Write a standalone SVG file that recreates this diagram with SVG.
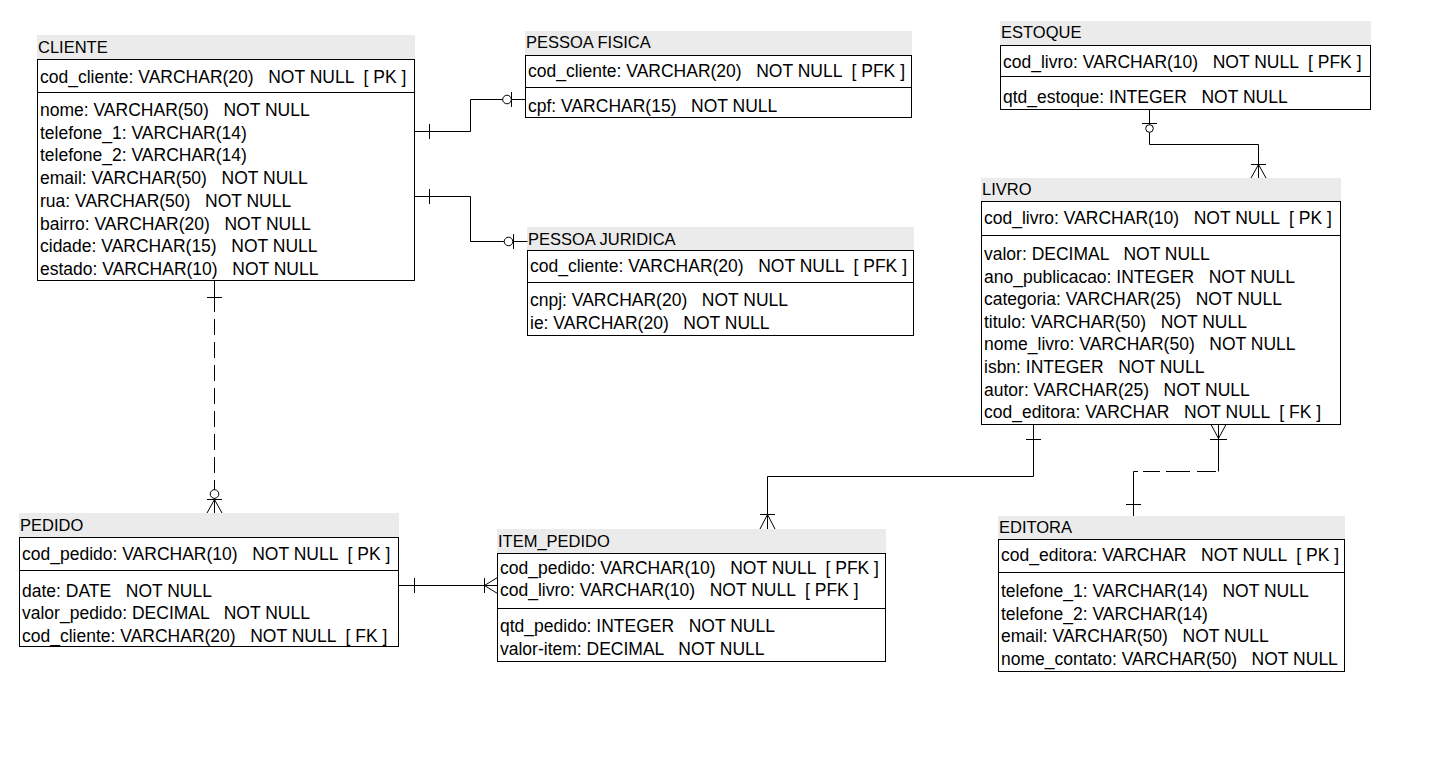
<svg xmlns="http://www.w3.org/2000/svg" width="1447" height="778" viewBox="0 0 1447 778">
<style>
.band{fill:#ebebeb;stroke:none}
.box{fill:#fff;stroke:#000;stroke-width:1}
.div{stroke:#000;stroke-width:1}
.h{font-family:"Liberation Sans",Arial,sans-serif;font-size:16.5px;fill:#000}
.t{font-family:"Liberation Sans",Arial,sans-serif;font-size:17.5px;fill:#000;white-space:pre}
.c{fill:none;stroke:#000;stroke-width:1}
.d{fill:none;stroke:#000;stroke-width:1;stroke-dasharray:16 7}
.o{fill:#fff;stroke:#000;stroke-width:1}
</style>
<rect width="1447" height="778" fill="#fff"/>

<g id="cliente">
<rect class="band" x="37" y="35" width="378" height="24"/>
<text class="h" x="38" y="53">CLIENTE</text>
<rect class="box" x="37.5" y="59.5" width="377" height="221"/>
<line class="div" x1="37.5" y1="92.5" x2="414.5" y2="92.5"/>
<text class="t" x="40" y="83">cod_cliente: VARCHAR(20)   NOT NULL  [ PK ]</text>
<text class="t" x="40" y="116">nome: VARCHAR(50)   NOT NULL</text>
<text class="t" x="40" y="138.7">telefone_1: VARCHAR(14)</text>
<text class="t" x="40" y="161.4">telefone_2: VARCHAR(14)</text>
<text class="t" x="40" y="184.1">email: VARCHAR(50)   NOT NULL</text>
<text class="t" x="40" y="206.8">rua: VARCHAR(50)   NOT NULL</text>
<text class="t" x="40" y="229.5">bairro: VARCHAR(20)   NOT NULL</text>
<text class="t" x="40" y="252.2">cidade: VARCHAR(15)   NOT NULL</text>
<text class="t" x="40" y="274.9">estado: VARCHAR(10)   NOT NULL</text>
</g>

<g id="pessoa_fisica">
<rect class="band" x="525" y="31" width="387" height="24"/>
<text class="h" x="526" y="48">PESSOA FISICA</text>
<rect class="box" x="525.5" y="55.5" width="386" height="62"/>
<line class="div" x1="525.5" y1="87.5" x2="911.5" y2="87.5"/>
<text class="t" x="528" y="77">cod_cliente: VARCHAR(20)   NOT NULL  [ PFK ]</text>
<text class="t" x="528" y="112">cpf: VARCHAR(15)   NOT NULL</text>
</g>

<g id="pessoa_juridica">
<rect class="band" x="527" y="227" width="387" height="23"/>
<text class="h" x="528" y="245">PESSOA JURIDICA</text>
<rect class="box" x="527.5" y="250.5" width="386" height="85"/>
<line class="div" x1="527.5" y1="282.5" x2="913.5" y2="282.5"/>
<text class="t" x="530" y="272">cod_cliente: VARCHAR(20)   NOT NULL  [ PFK ]</text>
<text class="t" x="530" y="306">cnpj: VARCHAR(20)   NOT NULL</text>
<text class="t" x="530" y="328.7">ie: VARCHAR(20)   NOT NULL</text>
</g>

<g id="estoque">
<rect class="band" x="1000" y="21" width="371" height="24"/>
<text class="h" x="1001" y="38">ESTOQUE</text>
<rect class="box" x="1000.5" y="45.5" width="370" height="64"/>
<line class="div" x1="1000.5" y1="76.5" x2="1370.5" y2="76.5"/>
<text class="t" x="1003" y="68">cod_livro: VARCHAR(10)   NOT NULL  [ PFK ]</text>
<text class="t" x="1003" y="103">qtd_estoque: INTEGER   NOT NULL</text>
</g>

<g id="livro">
<rect class="band" x="981" y="178" width="360" height="23"/>
<text class="h" x="982" y="195">LIVRO</text>
<rect class="box" x="981.5" y="201.5" width="359" height="223"/>
<line class="div" x1="981.5" y1="235.5" x2="1340.5" y2="235.5"/>
<text class="t" x="984" y="224">cod_livro: VARCHAR(10)   NOT NULL  [ PK ]</text>
<text class="t" x="984" y="260">valor: DECIMAL   NOT NULL</text>
<text class="t" x="984" y="282.6">ano_publicacao: INTEGER   NOT NULL</text>
<text class="t" x="984" y="305.2">categoria: VARCHAR(25)   NOT NULL</text>
<text class="t" x="984" y="327.8">titulo: VARCHAR(50)   NOT NULL</text>
<text class="t" x="984" y="350.4">nome_livro: VARCHAR(50)   NOT NULL</text>
<text class="t" x="984" y="373">isbn: INTEGER   NOT NULL</text>
<text class="t" x="984" y="395.6">autor: VARCHAR(25)   NOT NULL</text>
<text class="t" x="984" y="418.2">cod_editora: VARCHAR   NOT NULL  [ FK ]</text>
</g>

<g id="editora">
<rect class="band" x="998" y="516" width="347" height="23"/>
<text class="h" x="999" y="533">EDITORA</text>
<rect class="box" x="998.5" y="539.5" width="346" height="132"/>
<line class="div" x1="998.5" y1="572.5" x2="1344.5" y2="572.5"/>
<text class="t" x="1001" y="561">cod_editora: VARCHAR   NOT NULL  [ PK ]</text>
<text class="t" x="1001" y="597">telefone_1: VARCHAR(14)   NOT NULL</text>
<text class="t" x="1001" y="619.6">telefone_2: VARCHAR(14)</text>
<text class="t" x="1001" y="642.2">email: VARCHAR(50)   NOT NULL</text>
<text class="t" x="1001" y="664.8">nome_contato: VARCHAR(50)   NOT NULL</text>
</g>

<g id="pedido">
<rect class="band" x="19" y="513" width="380" height="24"/>
<text class="h" x="20" y="531">PEDIDO</text>
<rect class="box" x="19.5" y="537.5" width="379" height="109"/>
<line class="div" x1="19.5" y1="570.5" x2="398.5" y2="570.5"/>
<text class="t" x="22" y="560">cod_pedido: VARCHAR(10)   NOT NULL  [ PK ]</text>
<text class="t" x="22" y="596.5">date: DATE   NOT NULL</text>
<text class="t" x="22" y="619.2">valor_pedido: DECIMAL   NOT NULL</text>
<text class="t" x="22" y="641.9">cod_cliente: VARCHAR(20)   NOT NULL  [ FK ]</text>
</g>

<g id="item_pedido">
<rect class="band" x="497" y="529" width="389" height="24"/>
<text class="h" x="498" y="547">ITEM_PEDIDO</text>
<rect class="box" x="497.5" y="553.5" width="388" height="108"/>
<line class="div" x1="497.5" y1="608.5" x2="885.5" y2="608.5"/>
<text class="t" x="500" y="573.5">cod_pedido: VARCHAR(10)   NOT NULL  [ PFK ]</text>
<text class="t" x="500" y="596">cod_livro: VARCHAR(10)   NOT NULL  [ PFK ]</text>
<text class="t" x="500" y="632">qtd_pedido: INTEGER   NOT NULL</text>
<text class="t" x="500" y="654.5">valor-item: DECIMAL   NOT NULL</text>
</g>

<g id="connectors">
<!-- CLIENTE - PESSOA FISICA -->
<path class="c" d="M414.5,131.5 H470.5 V99.5 H525.5"/>
<line class="c" x1="429.5" y1="124" x2="429.5" y2="139"/>
<line class="c" x1="511.5" y1="92" x2="511.5" y2="107"/>
<circle class="o" cx="507" cy="99.5" r="4.3"/>
<!-- CLIENTE - PESSOA JURIDICA -->
<path class="c" d="M414.5,196.5 H470.5 V241.5 H527.5"/>
<line class="c" x1="429.5" y1="189" x2="429.5" y2="204"/>
<line class="c" x1="513.5" y1="234" x2="513.5" y2="249"/>
<circle class="o" cx="508.5" cy="241.5" r="4.3"/>
<!-- CLIENTE - PEDIDO -->
<line class="c" x1="214.5" y1="280.5" x2="214.5" y2="312"/>
<line class="d" x1="214.5" y1="319" x2="214.5" y2="490"/>
<line class="c" x1="214.5" y1="490" x2="214.5" y2="513"/>
<line class="c" x1="207" y1="297.5" x2="222" y2="297.5"/>
<line class="c" x1="207" y1="499.5" x2="222" y2="499.5"/>
<path class="c" d="M207,513 L214.5,499.5 L222,513"/>
<circle class="o" cx="214.5" cy="494" r="4.3"/>
<!-- PEDIDO - ITEM_PEDIDO -->
<line class="c" x1="398.5" y1="585.5" x2="497.5" y2="585.5"/>
<line class="c" x1="414.5" y1="578" x2="414.5" y2="593"/>
<line class="c" x1="484.5" y1="578" x2="484.5" y2="593"/>
<path class="c" d="M497.5,577.5 L484.5,585.5 L497.5,593.5"/>
<!-- LIVRO - ITEM_PEDIDO -->
<path class="c" d="M1033.5,424.5 V476.5 H767.5 V529"/>
<line class="c" x1="1026" y1="439.5" x2="1041" y2="439.5"/>
<line class="c" x1="760" y1="514.5" x2="775" y2="514.5"/>
<path class="c" d="M760,529 L767.5,514.5 L775,529"/>
<!-- ESTOQUE - LIVRO -->
<path class="c" d="M1149.5,109.5 V144.5 H1258.5 V178"/>
<line class="c" x1="1142" y1="123.5" x2="1157" y2="123.5"/>
<circle class="o" cx="1149.5" cy="128.5" r="3.8"/>
<line class="c" x1="1251" y1="164.5" x2="1266" y2="164.5"/>
<path class="c" d="M1251,178 L1258.5,164.5 L1266,178"/>
<!-- EDITORA - LIVRO -->
<line class="c" x1="1218.5" y1="424.5" x2="1218.5" y2="471.5"/>
<path class="c" d="M1211,424.5 L1218.5,438.5 L1226,424.5"/>
<line class="c" x1="1210" y1="439.5" x2="1227" y2="439.5"/>
<path class="c" d="M1216,471.5 H1197 M1190,471.5 H1166 M1160,471.5 H1143 M1138,471.5 H1133.5 V516"/>
<line class="c" x1="1126" y1="504.5" x2="1141" y2="504.5"/>
</g>
</svg>
